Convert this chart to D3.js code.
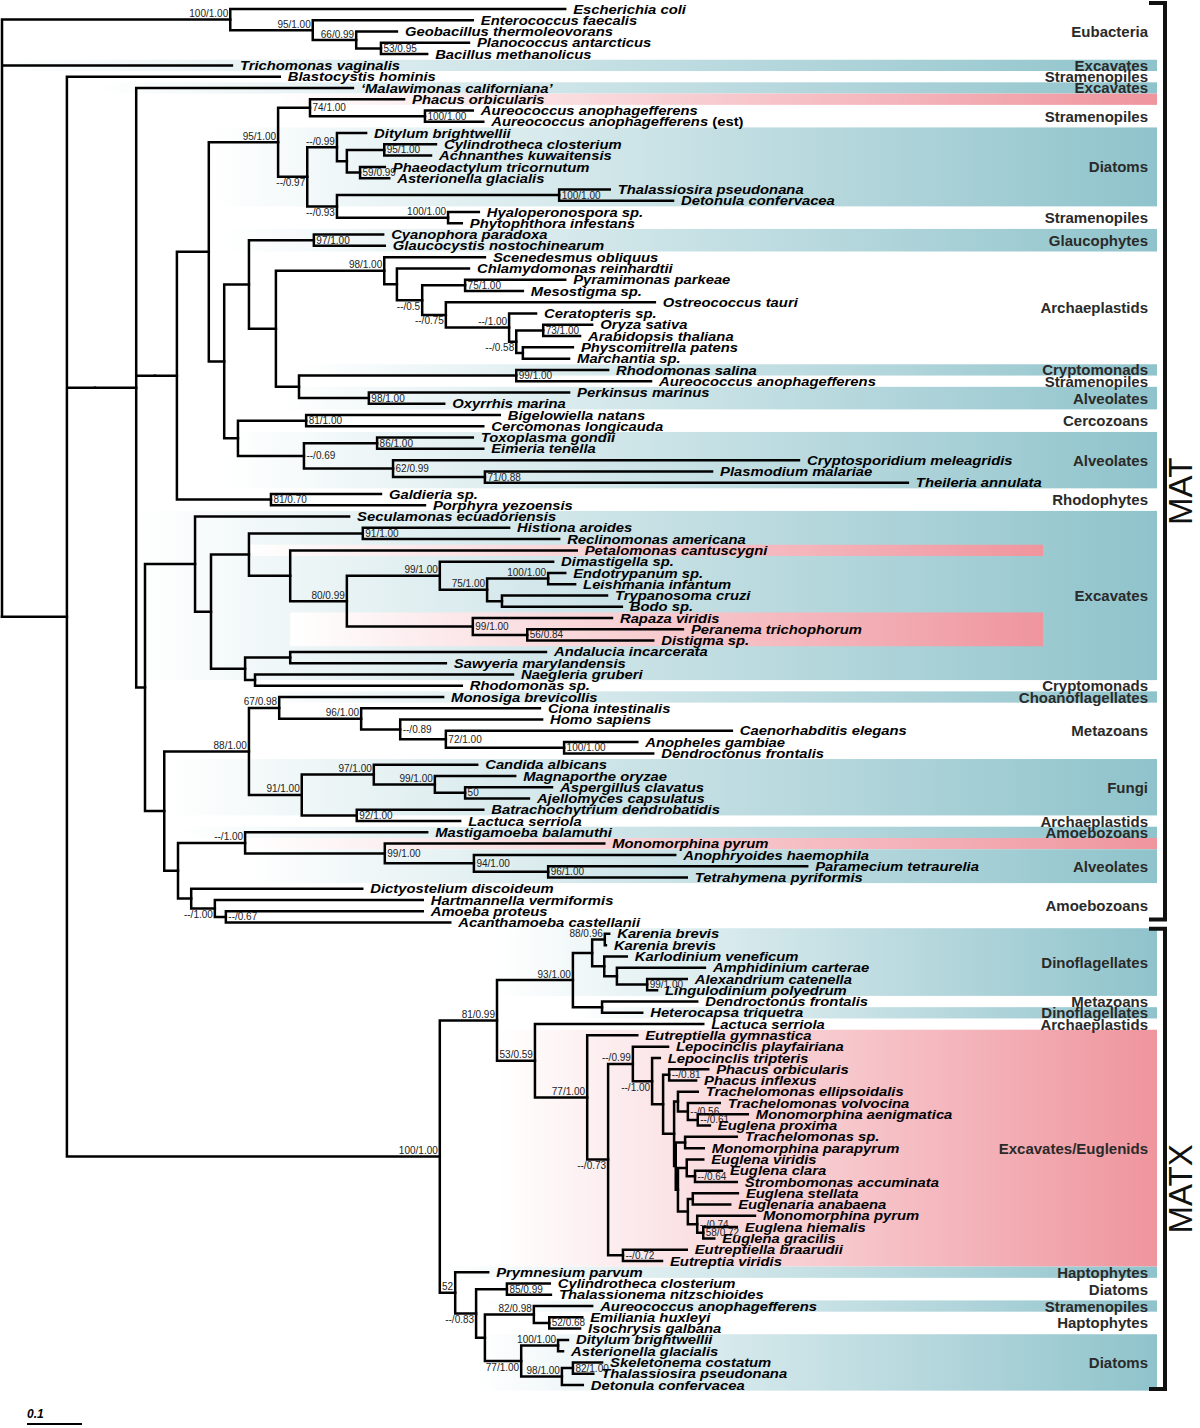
<!DOCTYPE html>
<html><head><meta charset="utf-8">
<script src="https://cdn.jsdelivr.net/npm/d3@7"></script>
<style>
body{margin:0;background:#fff}
svg{display:block}
.tip{font-family:"Liberation Sans",Arial,sans-serif;font-weight:bold;font-style:italic;font-size:13px;fill:#000}
.sup{font-family:"Liberation Sans",Arial,sans-serif;font-size:10px;fill:#222}
.grp{font-family:"Liberation Sans",Arial,sans-serif;font-weight:bold;font-size:15px;fill:#2a2a2a}
.big{font-family:"Liberation Sans",Arial,sans-serif;font-size:33px;fill:#111}
</style></head><body><svg id="chart" width="1200" height="1428"></svg>
<script>
// ---------------- DATA ----------------
const taxa = ["Escherichia coli","Enterococcus faecalis","Geobacillus thermoleovorans","Planococcus antarcticus","Bacillus methanolicus",
"Trichomonas vaginalis","Blastocystis hominis","\u2018Malawimonas californiana\u2019","Phacus orbicularis","Aureococcus anophagefferens","Aureococcus anophagefferens (est)",
"Ditylum brightwellii","Cylindrotheca closterium","Achnanthes kuwaitensis","Phaeodactylum tricornutum","Asterionella glacialis","Thalassiosira pseudonana","Detonula confervacea","Hyaloperonospora sp.","Phytophthora infestans",
"Cyanophora paradoxa","Glaucocystis nostochinearum","Scenedesmus obliquus","Chlamydomonas reinhardtii","Pyramimonas parkeae","Mesostigma sp.","Ostreococcus tauri","Ceratopteris sp.","Oryza sativa","Arabidopsis thaliana","Physcomitrella patens","Marchantia sp.",
"Rhodomonas salina","Aureococcus anophagefferens","Perkinsus marinus","Oxyrrhis marina","Bigelowiella natans","Cercomonas longicauda","Toxoplasma gondii","Eimeria tenella","Cryptosporidium meleagridis","Plasmodium malariae","Theileria annulata",
"Galdieria sp.","Porphyra yezoensis",
"Seculamonas ecuadoriensis","Histiona aroides","Reclinomonas americana","Petalomonas cantuscygni","Dimastigella sp.","Endotrypanum sp.","Leishmania infantum","Trypanosoma cruzi","Bodo sp.","Rapaza viridis","Peranema trichophorum","Distigma sp.","Andalucia incarcerata","Sawyeria marylandensis","Naegleria gruberi","Rhodomonas sp.",
"Monosiga brevicollis","Ciona intestinalis","Homo sapiens","Caenorhabditis elegans","Anopheles gambiae","Dendroctonus frontalis","Candida albicans","Magnaporthe oryzae","Aspergillus clavatus","Ajellomyces capsulatus","Batrachochytrium dendrobatidis","Lactuca serriola",
"Mastigamoeba balamuthi","Monomorphina pyrum","Anophryoides haemophila","Paramecium tetraurelia","Tetrahymena pyriformis","Dictyostelium discoideum","Hartmannella vermiformis","Amoeba proteus","Acanthamoeba castellanii",
"Karenia brevis","Karenia brevis","Karlodinium veneficum","Amphidinium carterae","Alexandrium catenella","Lingulodinium polyedrum","Dendroctonus frontalis","Heterocapsa triquetra","Lactuca serriola",
"Eutreptiella gymnastica","Lepocinclis playfairiana","Lepocinclis tripteris","Phacus orbicularis","Phacus inflexus","Trachelomonas ellipsoidalis","Trachelomonas volvocina","Monomorphina aenigmatica","Euglena proxima","Trachelomonas sp.","Monomorphina parapyrum","Euglena viridis","Euglena clara","Strombomonas accuminata","Euglena stellata","Euglenaria anabaena","Monomorphina pyrum","Euglena hiemalis","Euglena gracilis","Eutreptiella braarudii","Eutreptia viridis",
"Prymnesium parvum","Cylindrotheca closterium","Thalassionema nitzschioides","Aureococcus anophagefferens","Emiliania huxleyi","Isochrysis galbana","Ditylum brightwellii","Asterionella glacialis","Skeletonema costatum","Thalassiosira pseudonana","Detonula confervacea"];

// distance from root to each tip (substitutions/site)
const tipDepth = [1.024,0.856,0.718,0.849,0.773,
0.418,0.505,0.638,0.731,0.856,0.875,
0.662,0.789,0.780,0.696,0.704,1.105,1.220,0.867,0.836,
0.693,0.696,0.878,0.849,1.024,0.947,1.187,0.971,1.073,1.051,1.038,1.031,
1.102,1.180,1.031,0.804,0.905,0.875,0.856,0.875,1.449,1.291,1.647,
0.689,0.769,
0.631,0.922,1.013,1.045,1.002,1.024,1.042,1.100,1.127,1.109,1.238,1.184,0.989,0.807,0.929,0.836,
0.802,0.978,0.982,1.327,1.155,1.184,0.864,0.933,1.000,0.958,0.875,0.833,
0.773,1.095,1.224,1.464,1.245,0.655,0.765,0.765,0.815,
1.104,1.098,1.136,1.278,1.245,1.191,1.264,1.164,1.275,
1.155,1.211,1.196,1.284,1.262,1.265,1.305,1.356,1.287,1.336,1.276,1.275,1.309,1.336,1.338,1.324,1.369,1.336,1.295,1.245,1.200,
0.884,0.996,0.998,1.073,1.055,1.051,1.029,1.020,1.091,1.075,1.056];

// Topology: leaves = taxon index; internal node = (children)[a|b|i]support:depth-from-root
const cladeEubacteria = "(0,(1,(2,(3,4)i53/0.95:0.689)a66/0.99:0.644)a95/1.00:0.565)a100/1.00:0.415";
const cladeStramenopiles = "((8,(9,10)i100/1.00:0.769)i74/1.00:0.560,((11,((12,13)i95/1.00:0.695,(14,15)i59/0.99:0.651):0.627)a--/0.99:0.609,((16,17)i100/1.00:1.013,(18,19)a100/1.00:0.811)b--/0.93:0.609)b--/0.97:0.555)a95/1.00:0.502";
const cladePlastids = "((20,21)i97/1.00:0.567,((22,(23,((24,25)i75/1.00:0.842,(26,(27,((28,29)i73/1.00:0.984,(30,31):0.947)b--/0.58:0.935)a--/1.00:0.922)b--/0.75:0.807)b--/0.5:0.764):0.718)a98/1.00:0.695,((32,33)i99/1.00:0.935,(34,35)i98/1.00:0.667):0.540):0.498):0.449";
const cladeAlveolates = "((36,37)i81/1.00:0.553,((38,39)i86/1.00:0.682,(40,(41,42)i71/0.88:0.878)i62/0.99:0.711)i--/0.69:0.549):0.429";
const cladeRhodophytes = "(43,44)i81/0.70:0.489";
const cladeExcavates = "(45,(((46,47)i91/1.00:0.656,(48,((49,((50,51)a100/1.00:0.993,(52,53):0.909)a75/1.00:0.882)a99/1.00:0.796,(54,(55,56)i56/0.84:0.955)i99/1.00:0.856)a80/0.99:0.627):0.524):0.449,((57,58):0.524,(59,60):0.460):0.442):0.380):0.351";
const cladeOpisthokonts = "((61,(62,(63,(64,(65,66)i100/1.00:1.022)i72/1.00:0.807)i--/0.89:0.724)a96/1.00:0.653)a67/0.98:0.504,((67,(68,(69,70)i50:0.842)a99/1.00:0.787)a97/1.00:0.676,(71,72)i92/1.00:0.645)a91/1.00:0.545)a88/1.00:0.449";
const cladeAmoebozoa = "((73,(74,(75,(76,77)i96/1.00:0.993)i94/1.00:0.858)i99/1.00:0.696)a--/1.00:0.442,(78,(79,(80,81)i--/0.67:0.407)b--/1.00:0.387):0.344):0.320";
const cladeDinoflagellates = "(((82,83)a88/0.96:1.096,(84,(85,(86,87)i99/1.00:1.173):1.118):1.095):1.073,(88,89):1.091)a93/1.00:1.038";
const euglenaCore = "((102,(103,104)i--/0.64:1.260):1.245,((105,106):1.256,(107,(108,109)i58/0.72:1.275)i--/0.74:1.264):1.247):1.229";
const cladeEuglenids = `(91,((92,(93,((94,95)i--/0.81:1.213,((96,(97,(98,99)i--/0.61:1.265)i--/0.56:1.247):1.229,((100,101):1.242,${euglenaCore}):1.225):1.222):1.202)b--/1.00:1.182)a--/0.99:1.147,(110,111)i--/0.72:1.129)b--/0.73:1.102)a77/1.00:1.064`;
const cladeHaptoDiatoms = "(112,((113,114)i85/0.99:0.918,((115,(116,117)i52/0.68:0.995)a82/0.98:0.967,((118,119)a100/1.00:1.011,((120,121)i82/1.00:1.038,122)a98/1.00:1.018)b77/1.00:0.944):0.878)b--/0.83:0.862)a52:0.824";
const cladeMATX = `((${cladeDinoflagellates},(90,${cladeEuglenids})a53/0.59:0.969)a81/0.99:0.900,${cladeHaptoDiatoms})a100/1.00:0.796`;
const cladeMAT = `(6,((7,(((${cladeStramenopiles},(${cladePlastids},${cladeAlveolates}):0.404):0.376,${cladeRhodophytes}):0.318):0.278,(${cladeExcavates},(${cladeOpisthokonts},${cladeAmoebozoa}):0.295):0.260):0.244):0.169`;
const newick = `(${cladeEubacteria},5,(${cladeMAT},${cladeMATX}):0.118)`;

// right-hand group annotation (1-based rows)
const groupNames = ["Eubacteria","Excavates","Stramenopiles","Excavates","","Stramenopiles","Diatoms","Stramenopiles","Glaucophytes","Archaeplastids","Cryptomonads","Stramenopiles","Alveolates","Cercozoans","Alveolates","Rhodophytes","Excavates","Cryptomonads","Choanoflagellates","Metazoans","Fungi","Archaeplastids","Amoebozoans","","Alveolates","Amoebozoans","Dinoflagellates","Metazoans","Dinoflagellates","Archaeplastids","Excavates/Euglenids","Haptophytes","Diatoms","Stramenopiles","Haptophytes","Diatoms"];
const groupFirst = [1,6,7,8,9,10,12,19,21,23,33,34,35,37,39,44,46,61,62,63,68,73,74,75,76,79,83,89,90,91,92,113,114,116,117,119];
const groupLast  = [5,6,7,8,9,11,18,20,22,32,33,34,36,38,43,45,60,61,62,67,72,73,74,75,78,82,88,89,90,91,112,113,115,116,118,123];
const groupShade = ["none","teal","none","teal","pink","none","teal","none","teal","none","teal","none","teal","none","teal","none","teal","none","teal","none","teal","none","teal","pink","teal","none","teal","none","teal","none","pink","teal","none","teal","none","teal"];
const euglenidRowsInExcavates = [[49,49],[55,57]];
const cladeBrackets = ["MAT","MATX"];
const bracketRows = [[1,82],[83,123]];
const scaleBarValue = 0.1;

// ---------------- LAYOUT ----------------
function parseTree(str){
  const s = str.replace(/\s+/g,"");
  let i = 0;
  function node(){
    let n;
    if (s[i] === "("){
      i++;
      const children = [node()];
      while (s[i] === ","){ i++; children.push(node()); }
      i++;
      n = {children};
      let lab = "";
      while (i < s.length && s[i] !== ":" && s[i] !== "," && s[i] !== ")") lab += s[i++];
      if (lab){ n.place = lab[0]; n.support = lab.slice(1); }
      if (s[i] === ":"){ i++; let num = ""; while (i < s.length && /[0-9.]/.test(s[i])) num += s[i++]; n.depth = +num; }
      else n.depth = 0;
    } else {
      let num = "";
      while (/[0-9]/.test(s[i])) num += s[i++];
      n = {leaf: +num};
    }
    return n;
  }
  return node();
}

const svg = d3.select("#chart");
const x = d3.scaleLinear().domain([0,1]).range([2,552]);
const y = d3.scalePoint().domain(d3.range(taxa.length)).range([9,1385]);
const step = y.step();
const bandRight = 1157, innerBandRight = 1043, labelRight = 1148;
const teal = "#8fc3cb", pink = "#ef959e";

const root = d3.hierarchy(parseTree(newick));
root.eachAfter(n => {
  if (n.data.leaf !== undefined){ n.px = x(tipDepth[n.data.leaf]); n.py = y(n.data.leaf); }
  else { n.px = x(n.data.depth); n.py = (n.children[0].py + n.children[n.children.length-1].py)/2; }
});
root.each(n => { n.leafSet = new Set(n.leaves().map(l => l.data.leaf)); });

function bandStart(r0, r1){ // 0-based rows
  let best = null;
  root.each(n => {
    for (let r = r0; r <= r1; r++) if (!n.leafSet.has(r)) return;
    if (!best || n.depth > best.depth) best = n;
  });
  let s = best;
  if (s.parent) s = s.parent;
  if (s.parent) s = s.parent;
  return s.px;
}

const defs = svg.append("defs");
function grad(id, x1, x2, col){
  const g = defs.append("linearGradient").attr("id", id).attr("gradientUnits","userSpaceOnUse")
    .attr("x1", x1).attr("x2", x2).attr("y1", 0).attr("y2", 0);
  g.append("stop").attr("offset", 0).attr("stop-color", "#ffffff");
  g.append("stop").attr("offset", 1).attr("stop-color", col);
}

const gBands = svg.append("g");
groupNames.forEach((nm, k) => {
  const sh = groupShade[k];
  if (sh === "none") return;
  const r0 = groupFirst[k]-1, r1 = groupLast[k]-1;
  const sx = bandStart(r0, r1);
  grad("gb"+k, sx, bandRight, sh === "teal" ? teal : pink);
  gBands.append("rect").attr("x", sx).attr("width", bandRight - sx)
    .attr("y", y(r0) - step/2).attr("height", y(r1) - y(r0) + step)
    .attr("fill", `url(#gb${k})`);
});
euglenidRowsInExcavates.forEach((rr, k) => {
  const r0 = rr[0]-1, r1 = rr[1]-1;
  const sx = bandStart(r0, r1);
  grad("ge"+k, sx, innerBandRight, pink);
  gBands.append("rect").attr("x", sx).attr("width", innerBandRight - sx)
    .attr("y", y(r0) - step/2).attr("height", y(r1) - y(r0) + step)
    .attr("fill", `url(#ge${k})`);
});

// tree branches
const internal = root.descendants().filter(n => n.children);
svg.append("g").selectAll("path").data(internal).join("path")
  .attr("d", n => {
    const c = n.children;
    let d = `M${n.px},${c[0].py}V${c[c.length-1].py}`;
    c.forEach(ch => { d += `M${n.px},${ch.py}H${ch.px}`; });
    return d;
  })
  .attr("fill","none").attr("stroke","#000").attr("stroke-width",2.5).attr("stroke-linecap","square");

// support values
svg.append("g").selectAll("text").data(internal.filter(n => n.data.support)).join("text")
  .attr("class","sup")
  .attr("x", n => n.data.place === "i" ? n.px + 2.5 : n.px - 2)
  .attr("y", n => n.data.place === "a" ? n.py - 2.5 : n.data.place === "b" ? n.py + 9.5 : n.py + 3.5)
  .attr("text-anchor", n => n.data.place === "i" ? "start" : "end")
  .text(n => n.data.support);

// tip labels (slightly widened bold italic, as in the figure)
const tips = svg.append("g").selectAll("text").data(root.leaves()).join("text")
  .attr("class","tip")
  .attr("transform", n => `translate(${n.px + 8},${n.py + 4.6}) scale(1.14,1)`);
tips.each(function(n){
  const name = taxa[n.data.leaf];
  const t = d3.select(this);
  if (name.endsWith(" (est)")){
    t.append("tspan").text(name.slice(0, -6) + " ");
    t.append("tspan").attr("font-style","normal").text("(est)");
  } else t.text(name);
});

// group labels
svg.append("g").selectAll("text").data(groupNames.map((nm,k)=>({nm,k})).filter(d => d.nm)).join("text")
  .attr("class","grp").attr("text-anchor","end").attr("x", labelRight)
  .attr("y", d => (y(groupFirst[d.k]-1) + y(groupLast[d.k]-1))/2 + 5.5)
  .text(d => d.nm);

// MAT / MATX brackets
const gBr = svg.append("g");
cladeBrackets.forEach((nm, k) => {
  const yTop = k === 0 ? y(bracketRows[k][0]-1) - 6 : y(bracketRows[k][0]-1) - 5;
  const yBot = k === 0 ? y(bracketRows[k][1]-1) - 3 : y(bracketRows[k][1]-1) + 4;
  gBr.append("path").attr("d", `M1149,${yTop}H1165V${yBot}H1149`)
    .attr("fill","none").attr("stroke","#111").attr("stroke-width",4);
  const cy = (yTop + yBot)/2 + 30;
  gBr.append("text").attr("class","big").attr("text-anchor","middle")
    .attr("transform", `translate(1192,${cy}) rotate(-90)`).text(nm);
});

// scale bar
const sb = svg.append("g");
sb.append("line").attr("x1", 27).attr("x2", 27 + x(scaleBarValue) - x(0))
  .attr("y1", 1424).attr("y2", 1424).attr("stroke","#000").attr("stroke-width",2);
sb.append("text").attr("x", 27).attr("y", 1418)
  .attr("font-family","Liberation Sans, Arial, sans-serif").attr("font-weight","bold").attr("font-style","italic").attr("font-size",12)
  .text(String(scaleBarValue));
</script></body></html>
